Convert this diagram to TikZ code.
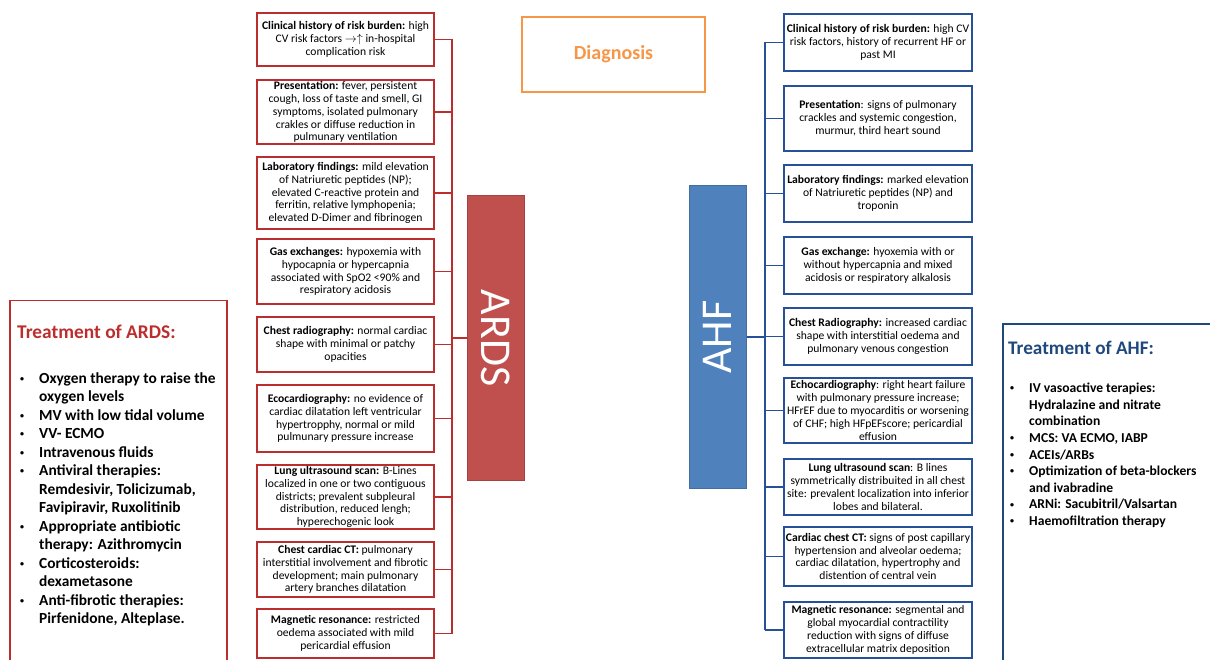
\documentclass[tikz,border=0pt]{standalone}
\usepackage{fontspec}
\setmainfont{Carlito}
\definecolor{ardsred}{RGB}{192,80,77}
\definecolor{ardsedge}{RGB}{188,45,45}
\definecolor{ahfblue}{RGB}{79,129,189}
\definecolor{ahfedge}{RGB}{38,80,152}
\definecolor{diagorange}{RGB}{247,150,70}
\definecolor{treatblue}{RGB}{31,73,125}
\newcommand\bitem{\makebox[19pt][l]{\raisebox{1.8pt}{\fontsize{8}{8}\selectfont\textbullet}}}
\newcommand\bcont{\hspace*{19pt}}

\begin{document}
\begin{tikzpicture}[x=1pt, y=-1pt,
    infobox/.style={draw, line width=1.5pt, fill=white, align=center, inner sep=1pt,
        font=\fontsize{11.6}{12.9}\selectfont},
    ardsbox/.style={infobox, draw=ardsedge, minimum width=177},
    ahfbox/.style={infobox, draw=ahfedge, minimum width=188},
    ardsline/.style={draw=ardsedge, line width=1.5pt},
    ahfline/.style={draw=ahfedge, line width=1.5pt},
    bigbar/.style={line width=1pt, minimum width=57},
    bartext/.style={text=white, font=\fontsize{44}{44}\selectfont}]
    \useasboundingbox (0,0) rectangle (1210,660);

    \node[draw=diagorange, line width=1.5pt, minimum width=183, minimum height=75,
        text=diagorange, font=\fontsize{20}{24}\selectfont\bfseries] (diag) at (613.5,54.5) {Diagnosis};

    \node[bigbar, fill=ardsred, draw=ardsred!85!black, minimum height=284,
        label={[rotate=-90, bartext]center:ARDS}] (ards) at (496,338) {};
    \node[bigbar, fill=ahfblue, draw=ahfblue!85!black, minimum height=302,
        label={[rotate=90, bartext]center:AHF}] (ahf) at (717.5,337) {};

    % ARDS column
    \node[ardsbox, minimum height=53] (a1) at (345.5,39.5) {\textbf{Clinical history of risk burden:} high\\CV risk factors $\rightarrow\uparrow$ in-hospital\\complication risk};
    \node[ardsbox, minimum height=64] (a2) at (345.5,112) {\textbf{Presentation:} fever, persistent\\cough, loss of taste and smell, GI\\symptoms, isolated pulmonary\\crakles or diffuse reduction in\\pulmunary ventilation};
    \node[ardsbox, minimum height=72] (a3) at (345.5,193) {\textbf{Laboratory findings:} mild elevation\\of Natriuretic peptides (NP);\\elevated C-reactive protein and\\ferritin, relative lymphopenia;\\elevated D-Dimer and fibrinogen};
    \node[ardsbox, minimum height=65] (a4) at (345.5,271.5) {\textbf{Gas exchanges:} hypoxemia with\\hypocapnia or hypercapnia\\associated with SpO2 <90\% and\\respiratory acidosis};
    \node[ardsbox, minimum height=55] (a5) at (345.5,344.5) {\textbf{Chest radiography:} normal cardiac\\shape with minimal or patchy\\opacities};
    \node[ardsbox, minimum height=67] (a6) at (345.5,418.5) {\textbf{Ecocardiography:} no evidence of\\cardiac dilatation left ventricular\\hypertropphy, normal or mild\\pulmunary pressure increase};
    \node[ardsbox, minimum height=64] (a7) at (345.5,497) {\textbf{Lung ultrasound scan:} B-Lines\\localized in one or two contiguous\\districts; prevalent subpleural\\distribution, reduced lengh;\\hyperechogenic look};
    \node[ardsbox, minimum height=55] (a8) at (345.5,569.5) {\textbf{Chest cardiac CT:} pulmonary\\interstitial involvement and fibrotic\\development; main pulmonary\\artery branches dilatation};
    \node[ardsbox, minimum height=49] (a9) at (345.5,633.5) {\textbf{Magnetic resonance:} restricted\\oedema associated with mild\\pericardial effusion};

    % AHF column
    \node[ahfbox, minimum height=57] (h1) at (878,42.5) {\textbf{Clinical history of risk burden:} high CV\\risk factors, history of recurrent HF or\\past MI};
    \node[ahfbox, minimum height=65] (h2) at (878,118.5) {\textbf{Presentation}: signs of pulmonary\\crackles and systemic congestion,\\murmur, third heart sound};
    \node[ahfbox, minimum height=57] (h3) at (878,193.5) {\textbf{Laboratory findings:} marked elevation\\of Natriuretic peptides (NP) and\\troponin};
    \node[ahfbox, minimum height=57] (h4) at (878,265.5) {\textbf{Gas exchange:} hyoxemia with or\\without hypercapnia and mixed\\acidosis or respiratory alkalosis};
    \node[ahfbox, minimum height=57] (h5) at (878,336.5) {\textbf{Chest Radiography:} increased cardiac\\shape with interstitial oedema and\\pulmonary venous congestion};
    \node[ahfbox, minimum height=65] (h6) at (878,410.5) {\textbf{Echocardiography}: right heart failure\\with pulmonary pressure increase;\\HFrEF due to myocarditis or worsening\\of CHF; high HFpEFscore; pericardial\\effusion};
    \node[ahfbox, minimum height=56] (h7) at (878,487) {\textbf{Lung ultrasound scan}: B lines\\symmetrically distribuited in all chest\\site: prevalent localization into inferior\\lobes and bilateral.};
    \node[ahfbox, minimum height=59] (h8) at (878,556.5) {\textbf{Cardiac chest CT:} signs of post capillary\\hypertension and alveolar oedema;\\cardiac dilatation, hypertrophy and\\distention of central vein};
    \node[ahfbox, minimum height=56] (h9) at (878,630) {\textbf{Magnetic resonance:} segmental and\\global myocardial contractility\\reduction with signs of diffuse\\extracellular matrix deposition};

    \coordinate (ardsbus) at (452,0);
    \coordinate (ahfbus) at (765,0);
    \foreach \i in {1,...,9}{
        \draw[ardsline] (a\i.east) -- (a\i.east -| ardsbus);
        \draw[ahfline] (h\i.west) -- (h\i.west -| ahfbus);
    }
    \draw[ardsline] (a1.east -| ardsbus) -- (a9.east -| ardsbus);
    \draw[ardsline] (ards.west -| ardsbus) -- (ards.west);
    \draw[ahfline] (h1.west -| ahfbus) -- (h9.west -| ahfbus);
    \draw[ahfline] (ahf.east) -- (ahf.east -| ahfbus);

    % treatments
    \node[draw=ardsedge, line width=1.5pt, minimum width=217, minimum height=370, anchor=north west] (ardstreat) at (9,300) {};
    \node[anchor=base west, inner sep=0, text=ardsedge, font=\fontsize{19.4}{22}\selectfont\bfseries] (ardstitle) at (17,338) {Treatment of ARDS:};
    \node[anchor=north west, align=left, inner sep=0, font=\fontsize{15.4}{18.5}\selectfont\bfseries] (ardslist) at (20,372) {%
        \bitem Oxygen therapy to raise the\\\bcont oxygen levels\\
        \bitem MV with low tidal volume\\
        \bitem VV- ECMO\\
        \bitem Intravenous fluids\\
        \bitem Antiviral therapies:\\\bcont Remdesivir, Tolicizumab,\\\bcont Favipiravir, Ruxolitinib\\
        \bitem Appropriate antibiotic\\\bcont therapy: Azithromycin\\
        \bitem Corticosteroids:\\\bcont dexametasone\\
        \bitem Anti-fibrotic therapies:\\\bcont Pirfenidone, Alteplase.};

    \node[draw=treatblue, line width=1.5pt, minimum width=220, minimum height=350, anchor=north west] (ahftreat) at (1002,323) {};
    \node[anchor=base west, inner sep=0, text=treatblue, font=\fontsize{19.2}{22}\selectfont\bfseries] (ahftitle) at (1008,354) {Treatment of AHF:};
    \node[anchor=north west, align=left, inner sep=0, font=\fontsize{13.6}{16.6}\selectfont\bfseries] (ahflist) at (1010,383) {%
        \bitem IV vasoactive terapies:\\\bcont Hydralazine and nitrate\\\bcont combination\\
        \bitem MCS: VA ECMO, IABP\\
        \bitem ACEIs/ARBs\\
        \bitem Optimization of beta-blockers\\\bcont and ivabradine\\
        \bitem ARNi: Sacubitril/Valsartan\\
        \bitem Haemofiltration therapy};
\end{tikzpicture}
\end{document}
